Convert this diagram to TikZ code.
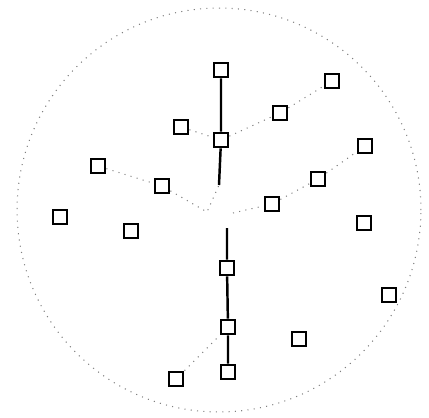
\documentclass[tikz,border=0pt]{standalone}
\begin{document}
\begin{tikzpicture}[x=0.02cm, y=-0.02cm,
	box/.style={draw, line width=1.6pt, minimum size=0.28cm, inner sep=0pt},
	link/.style={line width=1.4pt},
	faint/.style={gray, line width=0.6pt, dash pattern=on 0.6pt off 3pt}]
	\useasboundingbox (0,0) rectangle (429,417);
	\draw[faint] (219,210) circle [radius=4.04cm];
	% squares
	\node[box] (s1) at (221,70) {};
	\node[box] (s2) at (332,81) {};
	\node[box] (s3) at (280,113) {};
	\node[box] (s4) at (181,127) {};
	\node[box] (s5) at (221,140) {};
	\node[box] (s6) at (365,146) {};
	\node[box] (s7) at (98,166) {};
	\node[box] (s8) at (162,186) {};
	\node[box] (s9) at (318,179) {};
	\node[box] (s10) at (272,204) {};
	\node[box] (s11) at (60,217) {};
	\node[box] (s12) at (364,223) {};
	\node[box] (s13) at (131,231) {};
	\node[box] (s14) at (227,268) {};
	\node[box] (s15) at (389,295) {};
	\node[box] (s16) at (228,327) {};
	\node[box] (s17) at (299,339) {};
	\node[box] (s18) at (176,379) {};
	\node[box] (s19) at (228,372) {};
	\coordinate (top) at (219,185);
	\coordinate (mid) at (207,212);
	\coordinate (rgt) at (233,213);
	\coordinate (bot) at (227,228);
	% solid
	\draw[link] (s1) -- (s5) -- (top);
	\draw[link] (bot) -- (s14) -- (s16) -- (s19);
	% dotted
	\draw[faint] (s7) -- (s8) -- (mid) -- (top);
	\draw[faint] (s4) -- (s5) -- (s3) -- (s2);
	\draw[faint] (rgt) -- (s10) -- (s9) -- (s6);
	\draw[faint] (s18) -- (s16);
\end{tikzpicture}
\end{document}
